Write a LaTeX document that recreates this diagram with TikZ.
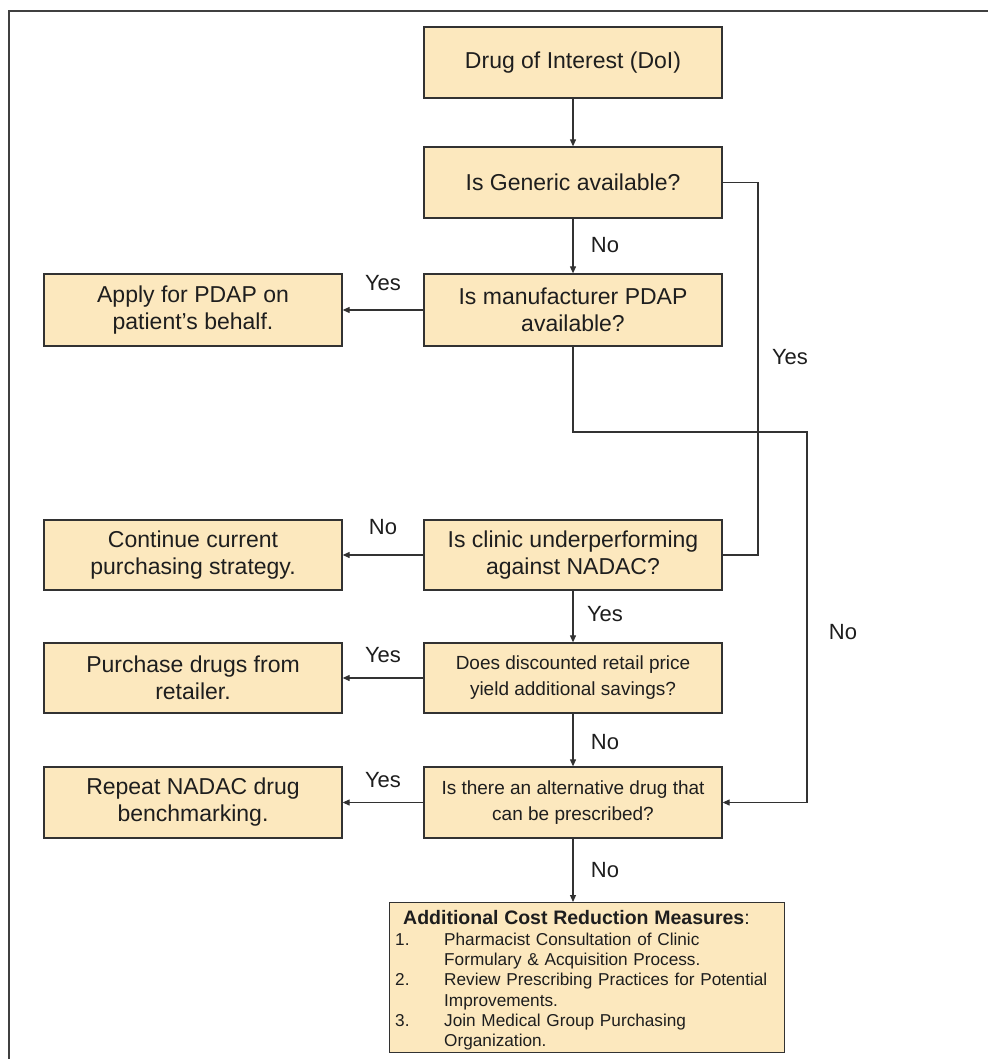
\documentclass[tikz,border=0pt]{standalone}
\usepackage{fontspec}
\setmainfont{Liberation Sans}
\usetikzlibrary{arrows.meta,positioning}
\definecolor{boxfill}{RGB}{252,232,190}
\definecolor{boxline}{RGB}{50,50,50}
\definecolor{txt}{RGB}{30,30,30}
\tikzset{
  fbox/.style={draw=boxline, fill=boxfill, line width=1.3pt, minimum width=298pt, minimum height=71pt, inner sep=2pt, align=center, text=txt, font=\fontsize{23}{27}\selectfont},
  sbox/.style={fbox, font=\fontsize{19}{26}\selectfont},
  arr/.style={draw=boxline, line width=1.1pt, -{Triangle[length=7pt,width=6pt]}},
  ln/.style={draw=boxline, line width=1.1pt},
  lbl/.style={text=txt, font=\fontsize{22}{24}\selectfont, inner sep=0pt}
}
\begin{document}
\begin{tikzpicture}[x=1pt,y=-1pt]
\useasboundingbox[fill=white] (0,0) rectangle (988,1059);
\draw[line width=2pt, black!75] (9,1059) -- (9,11) -- (988,11);

\node[fbox] (b1) at (573,62.5) {Drug of Interest (DoI)};
\node[fbox] (b2) at (573,182.5) {Is Generic available?};
\node[fbox, minimum height=72pt] (b3) at (573,310) {Is manufacturer PDAP\\available?};
\node[fbox, minimum height=72pt] (apply) at (193,310) {Apply for PDAP on\\patient’s behalf.};
\node[fbox, minimum height=70pt] (clinic) at (573,555) {Is clinic underperforming\\against NADAC?};
\node[fbox, minimum height=70pt] (cont) at (193,555) {Continue current\\purchasing strategy.};
\node[sbox, minimum height=70pt] (disc) at (573,678) {Does discounted retail price\\yield additional savings?};
\node[fbox, minimum height=70pt] (purch) at (193,678) {Purchase drugs from\\retailer.};
\node[sbox] (alt) at (573,802.5) {Is there an alternative drug that\\can be prescribed?};
\node[fbox] (rep) at (193,802.5) {Repeat NADAC drug\\benchmarking.};

\node[draw=boxline, fill=boxfill, line width=1.3pt, minimum width=395pt, minimum height=150pt, inner sep=0pt, anchor=north west] (meas) at (389,902) {};
\node[anchor=north west, inner sep=0pt, text width=385pt, align=left, text=txt, font=\fontsize{17.2}{20.2}\selectfont] (meastxt) at (395,910)
{\hspace*{8pt}{\fontsize{19.5}{20}\selectfont\bfseries Additional Cost Reduction Measures}{\fontsize{19.5}{20}\selectfont:}\\[1pt]
\makebox[49pt][l]{1.}Pharmacist Consultation of Clinic\\
\hspace*{49pt}Formulary \& Acquisition Process.\\
\makebox[49pt][l]{2.}Review Prescribing Practices for Potential\\
\hspace*{49pt}Improvements.\\
\makebox[49pt][l]{3.}Join Medical Group Purchasing\\
\hspace*{49pt}Organization.};

\coordinate (r1) at (758,182.5);
\coordinate (k1) at (573,432);
\coordinate (k2) at (807,432);

\draw[arr] (b1) -- (b2);
\draw[arr] (b2) -- (b3);
\draw[ln] (b2.east) -- (r1) |- (clinic.east);
\draw[arr] (b3.south) -- (k1) -- (k2) |- (alt.east);
\draw[arr] (b3) -- (apply);
\draw[arr] (clinic) -- (cont);
\draw[arr] (clinic) -- (disc);
\draw[arr] (disc) -- (purch);
\draw[arr] (disc) -- (alt);
\draw[arr] (alt) -- (rep);
\draw[arr] (alt.south) -- (meas.north -| alt.south);

\node[lbl] (l1) at (605,245) {No};
\node[lbl] (l2) at (383,283) {Yes};
\node[lbl] (l3) at (790,357) {Yes};
\node[lbl] (l4) at (383,527) {No};
\node[lbl] (l5) at (605,614) {Yes};
\node[lbl] (l6) at (843,632) {No};
\node[lbl] (l7) at (383,655) {Yes};
\node[lbl] (l8) at (605,742) {No};
\node[lbl] (l9) at (383,780) {Yes};
\node[lbl] (l10) at (605,870) {No};
\end{tikzpicture}
\end{document}
